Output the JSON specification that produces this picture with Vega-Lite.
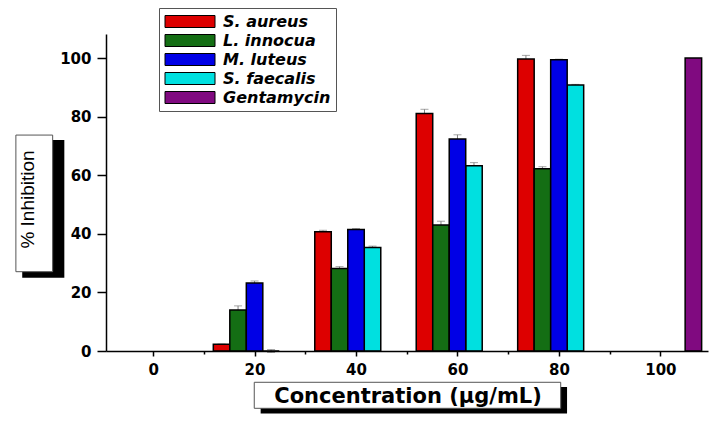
{
  "$schema": "https://vega.github.io/schema/vega-lite/v6.json",
  "width": 602,
  "height": 317,
  "autosize": {"type": "none"},
  "padding": {"left": 106, "top": 34, "right": 11, "bottom": 72},
  "background": "white",
  "config": {
    "view": {"stroke": null},
    "axis": {
      "grid": false,
      "domainColor": "black",
      "domainWidth": 1.5,
      "tickColor": "black",
      "tickWidth": 1.5,
      "labelFont": "DejaVu Sans",
      "labelFontWeight": "bold",
      "labelFontSize": 15,
      "labelColor": "black"
    }
  },
  "datasets": {
    "bars": [
      {"conc": 20, "series": "S. aureus", "value": 2.3, "err": 0},
      {"conc": 20, "series": "L. innocua", "value": 14.0, "err": 1.4},
      {"conc": 20, "series": "M. luteus", "value": 23.2, "err": 0.7},
      {"conc": 20, "series": "S. faecalis", "value": 0, "err": 0.5},
      {"conc": 40, "series": "S. aureus", "value": 40.7, "err": 0.5},
      {"conc": 40, "series": "L. innocua", "value": 28.2, "err": 0.6},
      {"conc": 40, "series": "M. luteus", "value": 41.5, "err": 0.3},
      {"conc": 40, "series": "S. faecalis", "value": 35.3, "err": 0.5},
      {"conc": 60, "series": "S. aureus", "value": 81.1, "err": 1.4},
      {"conc": 60, "series": "L. innocua", "value": 43.0, "err": 1.3},
      {"conc": 60, "series": "M. luteus", "value": 72.4, "err": 1.4},
      {"conc": 60, "series": "S. faecalis", "value": 63.2, "err": 1.1},
      {"conc": 80, "series": "S. aureus", "value": 99.7, "err": 1.2},
      {"conc": 80, "series": "L. innocua", "value": 62.2, "err": 0.7},
      {"conc": 80, "series": "M. luteus", "value": 99.4, "err": 0.2},
      {"conc": 80, "series": "S. faecalis", "value": 90.8, "err": 0.2},
      {"conc": 100, "series": "Gentamycin", "value": 100, "err": 0}
    ]
  },
  "layer": [
    {
      "data": {"values": [{}]},
      "mark": {"type": "rect", "fill": "black"},
      "encoding": {
        "x": {"datum": 21.2, "type": "quantitative", "scale": {"domain": [-8.3, 108.4], "nice": false, "zero": false}},
        "x2": {"datum": 81.6},
        "y": {"datum": -12.3, "type": "quantitative", "title": "% Inhibition", "scale": {"domain": [0, 108.2], "nice": false}},
        "y2": {"datum": -21.3}
      }
    },
    {
      "data": {"values": [{}]},
      "mark": {"type": "rect", "fill": "white", "stroke": "#555", "strokeWidth": 1},
      "encoding": {
        "x": {"datum": 19.94, "type": "quantitative", "scale": {"domain": [-8.3, 108.4], "nice": false, "zero": false}},
        "x2": {"datum": 80.35},
        "y": {"datum": -10.68, "type": "quantitative", "title": "% Inhibition", "scale": {"domain": [0, 108.2], "nice": false}},
        "y2": {"datum": -19.56}
      }
    },
    {
      "data": {"values": [{}]},
      "mark": {"type": "rect", "fill": "black"},
      "encoding": {
        "x": {"datum": -25.8, "type": "quantitative", "scale": {"domain": [-8.3, 108.4], "nice": false, "zero": false}},
        "x2": {"datum": -17.5},
        "y": {"datum": 72.0, "type": "quantitative", "title": "% Inhibition", "scale": {"domain": [0, 108.2], "nice": false}},
        "y2": {"datum": 25.0}
      }
    },
    {
      "data": {"values": [{}]},
      "mark": {"type": "rect", "fill": "white", "stroke": "#555", "strokeWidth": 1},
      "encoding": {
        "x": {"datum": -27.05, "type": "quantitative", "scale": {"domain": [-8.3, 108.4], "nice": false, "zero": false}},
        "x2": {"datum": -19.8},
        "y": {"datum": 73.7, "type": "quantitative", "title": "% Inhibition", "scale": {"domain": [0, 108.2], "nice": false}},
        "y2": {"datum": 27.07}
      }
    },
    {
      "data": {"name": "bars"},
      "transform": [{"filter": "datum.series === 'S. aureus'"}],
      "mark": {"type": "errorbar", "ticks": {"size": 8, "color": "#808080", "xOffset": -33}, "rule": {"color": "#808080", "xOffset": -33}},
      "encoding": {
        "x": {"field": "conc", "type": "quantitative", "scale": {"domain": [-8.3, 108.4], "nice": false, "zero": false}},
        "y": {"field": "value", "type": "quantitative", "title": "% Inhibition", "scale": {"domain": [0, 108.2], "nice": false}},
        "yError": {"field": "err"}
      }
    },
    {
      "data": {"name": "bars"},
      "transform": [{"filter": "datum.series === 'L. innocua'"}],
      "mark": {"type": "errorbar", "ticks": {"size": 8, "color": "#808080", "xOffset": -16.5}, "rule": {"color": "#808080", "xOffset": -16.5}},
      "encoding": {
        "x": {"field": "conc", "type": "quantitative", "scale": {"domain": [-8.3, 108.4], "nice": false, "zero": false}},
        "y": {"field": "value", "type": "quantitative", "title": "% Inhibition", "scale": {"domain": [0, 108.2], "nice": false}},
        "yError": {"field": "err"}
      }
    },
    {
      "data": {"name": "bars"},
      "transform": [{"filter": "datum.series === 'M. luteus'"}],
      "mark": {"type": "errorbar", "ticks": {"size": 8, "color": "#808080"}, "rule": {"color": "#808080"}},
      "encoding": {
        "x": {"field": "conc", "type": "quantitative", "scale": {"domain": [-8.3, 108.4], "nice": false, "zero": false}},
        "y": {"field": "value", "type": "quantitative", "title": "% Inhibition", "scale": {"domain": [0, 108.2], "nice": false}},
        "yError": {"field": "err"}
      }
    },
    {
      "data": {"name": "bars"},
      "transform": [{"filter": "datum.series === 'S. faecalis'"}],
      "mark": {"type": "errorbar", "ticks": {"size": 8, "color": "#808080", "xOffset": 16.5}, "rule": {"color": "#808080", "xOffset": 16.5}},
      "encoding": {
        "x": {"field": "conc", "type": "quantitative", "scale": {"domain": [-8.3, 108.4], "nice": false, "zero": false}},
        "y": {"field": "value", "type": "quantitative", "title": "% Inhibition", "scale": {"domain": [0, 108.2], "nice": false}},
        "yError": {"field": "err"}
      }
    },
    {
      "data": {"name": "bars"},
      "transform": [{"filter": "datum.series === 'S. aureus'"}],
      "mark": {"type": "bar", "width": 16.5, "stroke": "black", "strokeWidth": 1.5, "xOffset": -33},
      "encoding": {
        "x": {"field": "conc", "type": "quantitative", "scale": {"domain": [-8.3, 108.4], "nice": false, "zero": false}},
        "y": {"field": "value", "type": "quantitative", "title": "% Inhibition", "scale": {"domain": [0, 108.2], "nice": false}},
        "fill": {"field": "series", "type": "nominal"}
      }
    },
    {
      "data": {"name": "bars"},
      "transform": [{"filter": "datum.series === 'L. innocua'"}],
      "mark": {"type": "bar", "width": 16.5, "stroke": "black", "strokeWidth": 1.5, "xOffset": -16.5},
      "encoding": {
        "x": {"field": "conc", "type": "quantitative", "scale": {"domain": [-8.3, 108.4], "nice": false, "zero": false}},
        "y": {"field": "value", "type": "quantitative", "title": "% Inhibition", "scale": {"domain": [0, 108.2], "nice": false}},
        "fill": {"field": "series", "type": "nominal"}
      }
    },
    {
      "data": {"name": "bars"},
      "transform": [{"filter": "datum.series === 'S. faecalis'"}],
      "mark": {"type": "bar", "width": 16.5, "stroke": "black", "strokeWidth": 1.5, "xOffset": 16.5},
      "encoding": {
        "x": {"field": "conc", "type": "quantitative", "scale": {"domain": [-8.3, 108.4], "nice": false, "zero": false}},
        "y": {"field": "value", "type": "quantitative", "title": "% Inhibition", "scale": {"domain": [0, 108.2], "nice": false}},
        "fill": {"field": "series", "type": "nominal"}
      }
    },
    {
      "data": {"name": "bars"},
      "transform": [{"filter": "datum.series === 'Gentamycin'"}],
      "mark": {"type": "bar", "width": 16.5, "stroke": "black", "strokeWidth": 1.5, "xOffset": 33},
      "encoding": {
        "x": {"field": "conc", "type": "quantitative", "scale": {"domain": [-8.3, 108.4], "nice": false, "zero": false}},
        "y": {"field": "value", "type": "quantitative", "title": "% Inhibition", "scale": {"domain": [0, 108.2], "nice": false}},
        "fill": {"field": "series", "type": "nominal"}
      }
    },
    {
      "data": {"name": "bars"},
      "transform": [{"filter": "datum.series === 'M. luteus'"}],
      "mark": {"type": "bar", "width": 16.5, "stroke": "black", "strokeWidth": 1.5},
      "encoding": {
        "x": {
          "field": "conc", "type": "quantitative",
          "scale": {"domain": [-8.3, 108.4], "nice": false, "zero": false},
          "axis": {
            "zindex": 1,
            "values": [0, 10, 20, 30, 40, 50, 60, 70, 80, 90, 100],
            "labelExpr": "datum.value % 20 === 0 ? datum.label : ''",
            "tickSize": {"condition": {"test": "datum.value % 20 === 0", "value": 5}, "value": 3},
            "labelPadding": 6,
            "labelFlush": false,
            "title": "Concentration (µg/mL)",
            "titleFont": "DejaVu Sans",
            "titleFontWeight": "bold",
            "titleFontSize": 21,
            "titleColor": "black",
            "titleX": 301.5,
            "titleY": 51,
            "titleAlign": "center",
            "titleBaseline": "alphabetic"
          }
        },
        "y": {
          "field": "value", "type": "quantitative",
          "title": "% Inhibition",
          "scale": {"domain": [0, 108.2], "nice": false},
          "axis": {
            "zindex": 1,
            "values": [0, 10, 20, 30, 40, 50, 60, 70, 80, 90, 100],
            "labelExpr": "datum.value % 20 === 0 ? datum.label : ''",
            "tickSize": {"condition": {"test": "datum.value % 20 === 0", "value": 9}, "value": 6},
            "labelPadding": 6,
            "labelFlush": false,
            "title": "% Inhibition",
            "titleFont": "Liberation Sans",
            "titleFontWeight": "normal",
            "titleFontSize": 19,
            "titleColor": "black",
            "titleAngle": -90,
            "titleX": -73,
            "titleY": 165,
            "titleAlign": "center",
            "titleBaseline": "alphabetic"
          }
        },
        "fill": {
          "field": "series", "type": "nominal",
          "scale": {"domain": ["S. aureus", "L. innocua", "M. luteus", "S. faecalis", "Gentamycin"], "range": ["#dd0000", "#146e14", "#0000e6", "#00e0e0", "#800a80"]},
          "legend": {
            "title": null,
            "orient": "none",
            "legendX": 53,
            "legendY": -26,
            "padding": 5,
            "fillColor": "white",
            "strokeColor": "#555",
            "symbolType": "M-3.125,-0.75H3.125V0.75H-3.125Z",
            "symbolSize": 256,
            "symbolOffset": 17.5,
            "symbolStrokeColor": "black",
            "symbolStrokeWidth": 1,
            "symbolOpacity": 1,
            "rowPadding": 2,
            "labelFont": "DejaVu Sans",
            "labelFontWeight": "bold",
            "labelFontStyle": "italic",
            "labelFontSize": 16,
            "labelColor": "black",
            "labelOffset": 24.5,
            "labelLimit": 300
          }
        }
      }
    }
  ]
}
